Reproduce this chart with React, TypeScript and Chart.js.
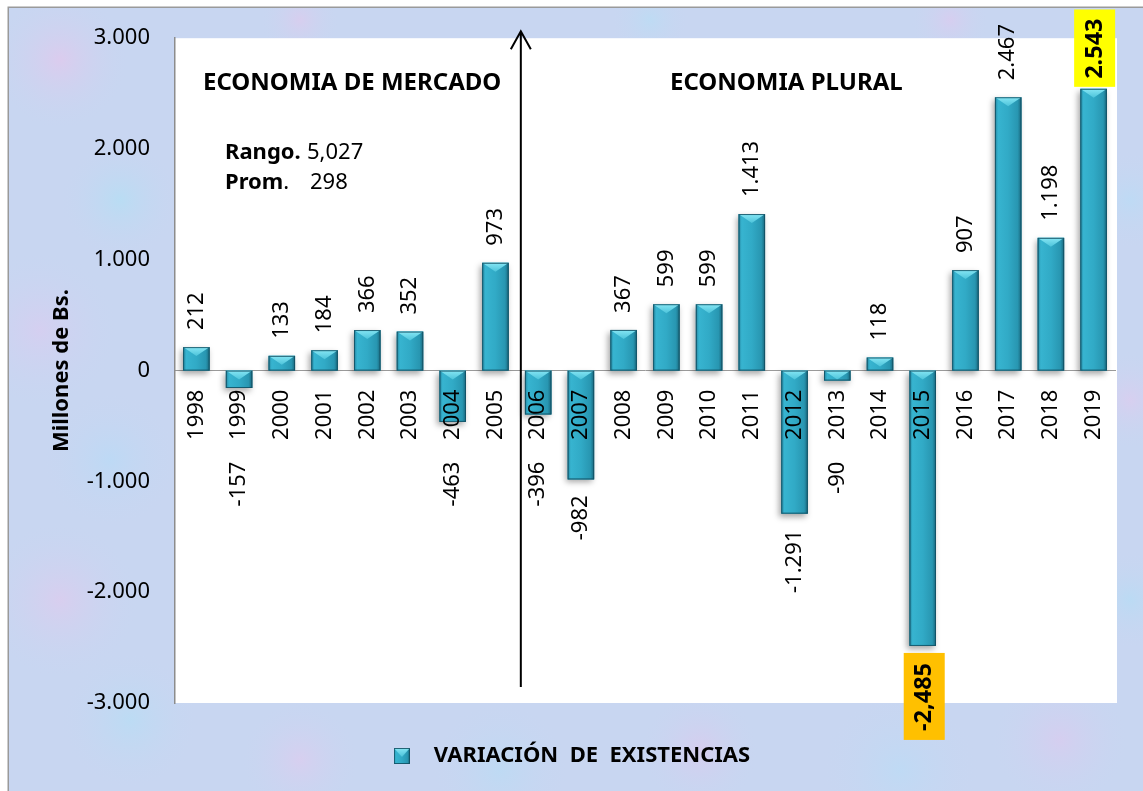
import React, { useEffect, useRef } from 'react';
import { Chart, registerables } from 'chart.js';

Chart.register(...registerables);

// ---------- data ----------
const years = ['1998', '1999', '2000', '2001', '2002', '2003', '2004', '2005', '2006', '2007', '2008', '2009', '2010', '2011', '2012', '2013', '2014', '2015', '2016', '2017', '2018', '2019'];
const values = [212, -157, 133, 184, 366, 352, -463, 973, -396, -982, 367, 599, 599, 1413, -1291, -90, 118, -2485, 907, 2467, 1198, 2543];
const yTickValues = [-3000, -2000, -1000, 0, 1000, 2000, 3000];
const seriesLabel = 'VARIACIÓN  DE  EXISTENCIAS';
const yTitle = 'Millones de Bs.';
const regionLabels = ['ECONOMIA DE MERCADO', 'ECONOMIA PLURAL'];
const statNames = ['Rango.', 'Prom'];
const statValues = ['5,027', '298'];

// ---------- styling ----------
const W = 1143;
const H = 791;
const FONT = "'Noto Sans', 'Open Sans', sans-serif";

function fmt(v: number, sep: string) {
  const s = Math.abs(Math.round(v)).toString().replace(/\B(?=(\d{3})+(?!\d))/g, sep);
  return (v < 0 ? '-' : '') + s;
}

function paintBar(ctx: CanvasRenderingContext2D, left: number, top: number, w: number, h: number, shadow: boolean) {
  ctx.save();
  if (shadow) {
    ctx.shadowColor = 'rgba(0,0,0,0.35)';
    ctx.shadowBlur = 6;
    ctx.shadowOffsetX = -2;
    ctx.shadowOffsetY = 3;
  }
  const g = ctx.createLinearGradient(left, 0, left + w, 0);
  g.addColorStop(0, '#2486a0');
  g.addColorStop(0.12, '#37b4d0');
  g.addColorStop(0.5, '#31aac6');
  g.addColorStop(0.86, '#2896b1');
  g.addColorStop(1, '#19677c');
  ctx.fillStyle = g;
  ctx.fillRect(left, top, w, h);
  ctx.restore();
  ctx.save();
  const ch = Math.min(9, h);
  const cg = ctx.createLinearGradient(0, top, 0, top + ch);
  cg.addColorStop(0, '#86e6f4');
  cg.addColorStop(1, '#4cc3da');
  ctx.fillStyle = cg;
  ctx.beginPath();
  ctx.moveTo(left, top);
  ctx.lineTo(left + w, top);
  ctx.lineTo(left + w / 2, top + ch);
  ctx.closePath();
  ctx.fill();
  ctx.strokeStyle = 'rgba(18,78,96,0.85)';
  ctx.lineWidth = 1;
  ctx.strokeRect(left + 0.5, top + 0.5, w - 1, h - 1);
  ctx.restore();
}

function makeIcon() {
  const c = document.createElement('canvas');
  c.width = 16;
  c.height = 16;
  const g = c.getContext('2d');
  if (g) paintBar(g, 0, 0, 16, 16, false);
  return c;
}

// background blobs (decorative texture)
const blobs: [number, number, number, string][] = [
  [60, 60, 70, 'rgba(235,195,235,0.55)'],
  [120, 200, 60, 'rgba(175,225,245,0.6)'],
  [40, 330, 80, 'rgba(225,200,240,0.5)'],
  [110, 460, 70, 'rgba(180,220,248,0.55)'],
  [60, 600, 80, 'rgba(232,198,236,0.5)'],
  [130, 720, 70, 'rgba(178,224,246,0.55)'],
  [300, 760, 60, 'rgba(230,200,238,0.5)'],
  [500, 770, 70, 'rgba(180,222,246,0.5)'],
  [700, 750, 60, 'rgba(228,196,236,0.5)'],
  [900, 770, 80, 'rgba(182,222,248,0.5)'],
  [1060, 740, 70, 'rgba(226,198,238,0.5)'],
  [1130, 600, 50, 'rgba(176,222,246,0.55)'],
  [1130, 400, 50, 'rgba(230,200,238,0.5)'],
  [1130, 200, 50, 'rgba(180,222,248,0.5)'],
  [300, 20, 40, 'rgba(230,198,236,0.5)'],
  [650, 20, 40, 'rgba(180,224,246,0.5)'],
  [950, 20, 40, 'rgba(228,198,238,0.5)'],
];

const decorPlugin = {
  id: 'decor',
  beforeDraw(chart: any) {
    const { ctx, chartArea } = chart;
    ctx.save();
    ctx.fillStyle = '#ffffff';
    ctx.fillRect(0, 0, W, H);
    ctx.fillStyle = '#c8d6f1';
    ctx.fillRect(8, 7, W - 8, H - 7);
    ctx.beginPath();
    ctx.rect(8, 7, W - 8, H - 7);
    ctx.clip();
    for (const [bx, by, r, col] of blobs) {
      const rg = ctx.createRadialGradient(bx, by, 0, bx, by, r);
      rg.addColorStop(0, col);
      rg.addColorStop(1, 'rgba(200,214,241,0)');
      ctx.fillStyle = rg;
      ctx.fillRect(bx - r, by - r, 2 * r, 2 * r);
    }
    ctx.restore();
    ctx.save();
    ctx.strokeStyle = '#9a9a9a';
    ctx.lineWidth = 1.5;
    ctx.strokeRect(8.25, 7.25, W + 10, H + 10);
    ctx.fillStyle = '#ffffff';
    ctx.fillRect(chartArea.left, chartArea.top, chartArea.right - chartArea.left + 2, chartArea.bottom - chartArea.top);
    ctx.restore();
  },
  afterDatasetDraw(chart: any, args: any) {
    const { ctx } = chart;
    const meta = chart.getDatasetMeta(args.index);
    meta.data.forEach((bar: any) => {
      const p = bar.getProps(['x', 'y', 'base', 'width'], true);
      const left = p.x - p.width / 2;
      const top = Math.min(p.y, p.base);
      const h = Math.abs(p.base - p.y);
      paintBar(ctx, left, top, p.width, h, true);
    });
  },
  afterDraw(chart: any) {
    const { ctx, chartArea } = chart;
    const xs = chart.scales.x;
    const ys = chart.scales.y;
    const zeroY = ys.getPixelForValue(0);
    const meta = chart.getDatasetMeta(0);
    const maxI = values.indexOf(Math.max(...values));
    const minI = values.indexOf(Math.min(...values));
    ctx.save();
    ctx.fillStyle = '#000';
    ctx.textBaseline = 'middle';
    meta.data.forEach((bar: any, i: number) => {
      const v = values[i];
      const p = bar.getProps(['x', 'y'], true);
      ctx.save();
      if (i === maxI) {
        ctx.font = `bold 23.5px ${FONT}`;
        const t = fmt(v, '.');
        const L = ctx.measureText(t).width;
        const boxBottom = p.y - 2;
        const boxTop = boxBottom - L - 17;
        ctx.fillStyle = '#ffff00';
        ctx.fillRect(p.x - 19.5, boxTop, 41, boxBottom - boxTop);
        ctx.fillStyle = '#000';
        ctx.translate(p.x + 1.5, boxBottom - 8);
        ctx.rotate(-Math.PI / 2);
        ctx.textAlign = 'left';
        ctx.fillText(t, 0, 0);
      } else if (i === minI) {
        ctx.font = `bold 23.5px ${FONT}`;
        const t = fmt(v, ',');
        const L = ctx.measureText(t).width;
        const boxTop = p.y + 7;
        ctx.fillStyle = '#ffc000';
        ctx.fillRect(p.x - 19, boxTop, 41, L + 19);
        ctx.fillStyle = '#000';
        ctx.translate(p.x + 1.5, boxTop + 10);
        ctx.rotate(-Math.PI / 2);
        ctx.textAlign = 'right';
        ctx.fillText(t, 0, 0);
      } else if (v >= 0) {
        ctx.font = `22px ${FONT}`;
        ctx.translate(p.x, p.y - 17);
        ctx.rotate(-Math.PI / 2);
        ctx.textAlign = 'left';
        ctx.fillText(fmt(v, '.'), 0, 0);
      } else {
        ctx.font = `22px ${FONT}`;
        const top = Math.max(p.y + 16, zeroY + 91);
        ctx.translate(p.x, top);
        ctx.rotate(-Math.PI / 2);
        ctx.textAlign = 'right';
        ctx.fillText(fmt(v, '.'), 0, 0);
      }
      ctx.restore();
    });

    // divider arrow between the two periods
    const ax = (xs.getPixelForValue(7) + xs.getPixelForValue(8)) / 2 + 4;
    const tipY = chartArea.top - 7;
    ctx.strokeStyle = '#000';
    ctx.lineWidth = 2;
    ctx.beginPath();
    ctx.moveTo(ax, chartArea.bottom - 16);
    ctx.lineTo(ax, tipY);
    ctx.moveTo(ax - 10, tipY + 18);
    ctx.lineTo(ax, tipY);
    ctx.lineTo(ax + 10, tipY + 18);
    ctx.stroke();

    // region titles
    ctx.font = `bold 24px ${FONT}`;
    ctx.textAlign = 'left';
    ctx.fillText(regionLabels[0], chartArea.left + 28, 83);
    ctx.fillText(regionLabels[1], chartArea.left + 495, 83);

    // stats
    ctx.font = `bold 22px ${FONT}`;
    ctx.fillText(statNames[0], chartArea.left + 50, 153);
    ctx.fillText(statNames[1], chartArea.left + 50, 183);
    const w1 = ctx.measureText(statNames[1]).width;
    ctx.font = `22px ${FONT}`;
    ctx.fillText(statValues[0], chartArea.left + 132, 153);
    ctx.fillText('.', chartArea.left + 50 + w1, 183);
    ctx.fillText(statValues[1], chartArea.left + 135, 183);
    ctx.restore();
  },
};

export default function App() {
  const ref = useRef<HTMLCanvasElement | null>(null);
  useEffect(() => {
    if (!ref.current) return;
    const icon = makeIcon();
    const chart = new Chart(ref.current, {
      type: 'bar',
      data: {
        labels: years,
        datasets: [
          {
            label: seriesLabel,
            data: values,
            backgroundColor: '#2fa7c3',
            borderWidth: 0,
            barPercentage: 0.62,
            categoryPercentage: 1,
          },
        ],
      },
      options: {
        responsive: false,
        animation: false,
        devicePixelRatio: 1,
        layout: { padding: { left: 16, top: 37, right: 28, bottom: 14 } },
        plugins: {
          tooltip: { enabled: false },
          legend: {
            position: 'bottom',
            labels: {
              usePointStyle: true,
              pointStyle: icon as any,
              pointStyleWidth: 42,
              padding: 42,
              color: '#000',
              font: { family: FONT, size: 22, weight: 'bold' },
            },
          },
        },
        scales: {
          x: {
            position: { y: 0 } as any,
            offset: true,
            grid: { display: false, drawTicks: false },
            border: { display: true, color: '#9a9a9a', width: 1 },
            ticks: {
              autoSkip: false,
              minRotation: 90,
              maxRotation: 90,
              padding: 19,
              z: 1,
              color: '#000',
              font: { family: FONT, size: 22 },
            },
          },
          y: {
            min: -3000,
            max: 3000,
            afterFit: (s: any) => {
              s.width = 159;
            },
            afterBuildTicks: (s: any) => {
              s.ticks = yTickValues.map((v) => ({ value: v }));
            },
            grid: { display: false, drawTicks: false },
            border: { display: true, color: '#8c8c8c', width: 1.5 },
            ticks: {
              padding: 25,
              color: '#000',
              font: { family: FONT, size: 22 },
              callback: (v: any) => fmt(Number(v), '.'),
            },
            title: {
              display: true,
              text: yTitle,
              color: '#000',
              font: { family: FONT, size: 22, weight: 'bold' },
              padding: { top: 33, bottom: 0 },
            },
          },
        },
      },
      plugins: [decorPlugin],
    });
    return () => chart.destroy();
  }, []);
  return (
    <div style={{ position: 'absolute', left: 0, top: 0, width: W, height: H }}>
      <canvas ref={ref} width={W} height={H} style={{ width: W, height: H, display: 'block' }} />
    </div>
  );
}
